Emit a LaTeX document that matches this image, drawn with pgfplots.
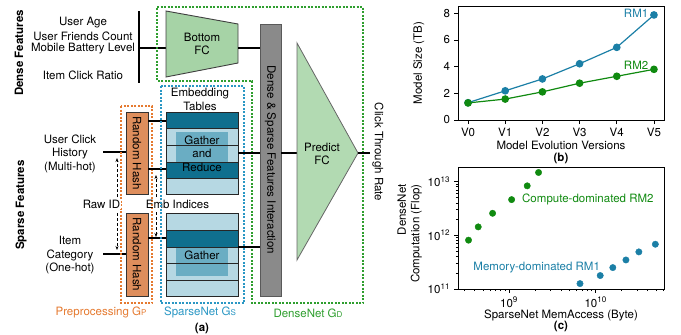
\documentclass[border=0pt]{standalone}
\usepackage{pgfplots}
\pgfplotsset{compat=1.18}
\usepackage{fontspec}
\setmainfont{TeX Gyre Heros}
\usetikzlibrary{arrows.meta}
\definecolor{tdark}{HTML}{0F6F8E}
\definecolor{tlight}{HTML}{B6D8E3}
\definecolor{thigh}{HTML}{6AADC3}
\definecolor{horange}{HTML}{DE8E5C}
\definecolor{dorange}{HTML}{E57A30}
\definecolor{dblue}{HTML}{2A97C4}
\definecolor{dgreen}{HTML}{2E9E2E}
\definecolor{fcgreen}{HTML}{A6D3A6}
\definecolor{fcgreenl}{HTML}{B2DAB2}
\definecolor{bargray}{HTML}{8A8A8A}
\definecolor{rmblue}{HTML}{1B7FA6}
\definecolor{rmgreen}{HTML}{108A10}
\begin{document}
\fontsize{11.5}{13.5}\selectfont
\begin{tikzpicture}
\useasboundingbox (0,0) rectangle (681pt,-335pt);
\begin{scope}[x=1pt,y=-1pt]
% ---------- Dense features ----------
\node[rotate=90,font=\bfseries] at (19,53) {Dense Features};
\node at (83,23) {User Age};
\node at (83,36) {User Friends Count};
\node at (83,49) {Mobile Battery Level};
\node at (83,75) {Item Click Ratio};
\draw[line width=1.2pt] (139,11) -- (139,83);
\draw[line width=1.2pt] (139,48) -- (166,48);
% DenseNet dashed region
\draw[dgreen,line width=1.2pt,dash pattern=on 2pt off 1.5pt] (157,7) -- (363,7) -- (363,303) -- (252,303) -- (252,81) -- (157,81) -- cycle;
% Bottom FC
\draw[fill=fcgreen,draw=black!75,line width=0.9pt] (166,11) -- (238,24) -- (238,63) -- (166,77) -- cycle;
\node[align=center] at (202,44) {Bottom\\FC};
\draw[line width=1.2pt] (238,48) -- (260,48);
% Interaction bar
\draw[fill=bargray,draw=black!65,line width=0.9pt] (260,24) rectangle (281,296);
\node[rotate=-90] at (270.5,160) {Dense \& Sparse Features Interaction};
\draw[line width=1.2pt] (281,153) -- (297,153);
% Predict FC
\draw[fill=fcgreenl,draw=black!60,line width=0.8pt] (297,43) -- (358,153) -- (297,260) -- cycle;
\node[align=center] at (322,154) {Predict\\FC};
\draw[line width=1.2pt] (358,153) -- (370,153);
\node[rotate=-90] at (378,152) {Click Through Rate};
\node[text=dgreen] at (308,313) {DenseNet G{\fontsize{8}{8}\selectfont D}};
% ---------- Sparse features ----------
\node[rotate=90,font=\bfseries] at (21,205) {Sparse Features};
\node[align=center] at (70,153.5) {User Click\\History\\(Multi-hot)};
\node[align=center] at (70,255.5) {Item\\Category\\(One-hot)};
\draw[line width=1.2pt] (103,152) -- (126,152);
\draw[line width=1.2pt] (103,254) -- (126,254);
% preprocessing box
\draw[dorange,line width=1.2pt,dash pattern=on 2pt off 1.5pt] (121,106) rectangle (152,303);
\draw[fill=horange,draw=black!80,line width=0.9pt] (126,112) rectangle (148,194);
\draw[fill=horange,draw=black!80,line width=0.9pt] (126,213) rectangle (148,296);
\node[rotate=-90] at (137,153) {Random Hash};
\node[rotate=-90] at (137,254.5) {Random Hash};
\draw[line width=1.2pt] (148,121) -- (166,121);
\draw[line width=1.2pt] (148,169) -- (166,169);
\draw[line width=1.2pt] (148,238) -- (166,238);
% dashed arrows
\draw[densely dashed,line width=0.8pt,-{Stealth[length=4pt,width=3pt]}] (117,197) -- (117,158);
\draw[densely dashed,line width=0.8pt,-{Stealth[length=4pt,width=3pt]}] (117,213) -- (117,250);
\draw[densely dashed,line width=0.8pt,-{Stealth[length=4pt,width=3pt]}] (156,197) -- (156,175);
\draw[densely dashed,line width=0.8pt,-{Stealth[length=4pt,width=3pt]}] (156,212) -- (156,237);
\node[fill=white,inner sep=0.5pt] at (101.5,204) {Raw ID};
\node at (177.5,204) {Emb Indices};
% SparseNet box
\draw[dblue,line width=1.2pt,dash pattern=on 2pt off 1.5pt] (161,86) rectangle (244,303);
\node[align=center] at (200,99.5) {Embedding\\Tables};
% upper table
\fill[tlight] (166,112) rectangle (238,194);
\fill[thigh] (176,132) rectangle (228,172);
\fill[tdark] (166,112) rectangle (238,128);
\fill[tdark] (166,162) rectangle (238,178);
\draw[black!85,line width=0.8pt] (166,112) rectangle (238,194);
\foreach \yy in {128,145,162,178} \draw[black!85,line width=0.8pt] (166,\yy) -- (238,\yy);
\node[align=center] at (202,153.5) {Gather\\and\\Reduce};
% lower table
\fill[tlight] (166,213) rectangle (238,296);
\fill[thigh] (176,237) rectangle (228,276);
\fill[tdark] (166,230) rectangle (238,247);
\draw[black!85,line width=0.8pt] (166,213) rectangle (238,296);
\foreach \yy in {230,247,263,280} \draw[black!85,line width=0.8pt] (166,\yy) -- (238,\yy);
\node at (202,255) {Gather};
\draw[line width=1.2pt] (238,153) -- (260,153);
\draw[line width=1.2pt] (238,247) -- (260,247);
\node[text=dorange] at (101,312) {Preprocessing G{\fontsize{8}{8}\selectfont P}};
\node[text=dblue] at (200,312) {SparseNet G{\fontsize{8}{8}\selectfont S}};
\node[font=\bfseries] at (202,328) {(a)};
\end{scope}
% ---------- (b) ----------
\begin{axis}[
 at={(458pt,-120pt)}, anchor=south west, scale only axis,
 width=206pt, height=114pt, clip=false,
 xmin=-0.27, xmax=5.27, ymin=0, ymax=8.55,
 xtick={0,1,2,3,4,5}, xticklabels={V0,V1,V2,V3,V4,V5},
 ytick={0,2,4,6,8},
 tick pos=left, tick align=outside, major tick length=4pt,
 axis line style={line width=0.8pt},
 every tick/.style={black,line width=0.8pt},
 /pgf/number format/assume math mode=true,
 xlabel={Model Evolution Versions}, ylabel={Model Size (TB)},
 xlabel style={at={(axis description cs:0.5,-0.22)},anchor=center},
 ylabel style={at={(axis description cs:-0.19,0.5)},anchor=center},
]
\addplot[rmblue,line width=1.2pt,mark=*,mark size=3.2pt] coordinates {(0,1.3) (1,2.19) (2,3.08) (3,4.22) (4,5.45) (5,7.88)};
\addplot[rmgreen,line width=1.2pt,mark=*,mark size=3.2pt] coordinates {(0,1.28) (1,1.57) (2,2.11) (3,2.76) (4,3.28) (5,3.8)};
\node[text=rmblue] at (axis cs:4.52,8.02) {RM1};
\node[text=rmgreen] at (axis cs:4.52,4.12) {RM2};
\node[font=\bfseries] at (axis description cs:0.5,-0.335) {(b)};
\end{axis}
% ---------- (c) ----------
\begin{axis}[
 at={(458pt,-289pt)}, anchor=south west, scale only axis,
 width=206pt, height=122pt, clip=false,
 xmode=log, ymode=log,
 xmin=2.57e8, xmax=6.17e10, ymin=1e11, ymax=1.86e13,
 xtick={1e9,1e10}, xticklabels={10\textsuperscript{9},10\textsuperscript{10}},
 ytick={1e11,1e12,1e13}, yticklabels={10\textsuperscript{11},10\textsuperscript{12},10\textsuperscript{13}},
 minor xtick={3e8,4e8,5e8,6e8,7e8,8e8,9e8,2e9,3e9,4e9,5e9,6e9,7e9,8e9,9e9,2e10,3e10,4e10,5e10,6e10},
 minor ytick={2e11,3e11,4e11,5e11,6e11,7e11,8e11,9e11,2e12,3e12,4e12,5e12,6e12,7e12,8e12,9e12},
 tick pos=left, tick align=outside, major tick length=4pt, minor tick length=2.2pt,
 axis line style={line width=0.8pt},
 every tick/.style={black,line width=0.8pt},
 every minor tick/.style={black,line width=0.6pt},
 xlabel={SparseNet MemAccess (Byte)}, ylabel={DenseNet\\Computation (Flop)},
 xlabel style={at={(axis description cs:0.5,-0.221)},anchor=center},
 ylabel style={at={(axis description cs:-0.235,0.455)},anchor=center,align=right},
]
\addplot[only marks,rmgreen,mark=*,mark size=3.2pt] coordinates {(3.4e8,8.1e11) (4.4e8,1.43e12) (6.45e8,2.56e12) (1.07e9,4.6e12) (1.62e9,8.3e12) (2.19e9,1.47e13)};
\addplot[only marks,rmblue,mark=*,mark size=3.2pt] coordinates {(6.6e9,1.26e11) (1.13e10,1.78e11) (1.58e10,2.5e11) (2.24e10,3.47e11) (3.16e10,4.9e11) (4.9e10,6.8e11)};
\node[text=rmgreen,anchor=west,inner sep=0pt] at (axis cs:1.41e9,4.6e12) {Compute-dominated RM2};
\node[text=rmblue,anchor=west,inner sep=0pt] at (axis cs:3.86e8,2.5e11) {Memory-dominated RM1};
\node[font=\bfseries] at (axis description cs:0.5,-0.303) {(c)};
\end{axis}
\end{tikzpicture}
\end{document}
